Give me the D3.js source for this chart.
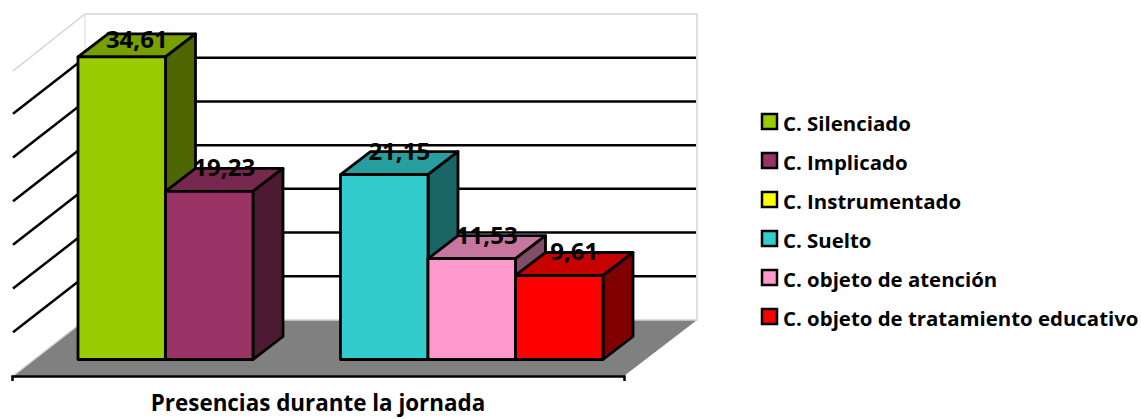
<!DOCTYPE html>
<html>
<head>
<meta charset="utf-8">
<script src="https://cdn.jsdelivr.net/npm/d3@7"></script>
<style>
body { margin: 0; background: #fff; }
text { font-family: "Open Sans", Lato, sans-serif; font-weight: bold; fill: #000; }
</style>
</head>
<body>
<svg id="chart" width="1141" height="419"></svg>
<script>
// values
const categories = ["C. Silenciado", "C. Implicado", "C. Instrumentado", "C. Suelto", "C. objeto de atención", "C. objeto de tratamiento educativo"];
const values = [34.61, 19.23, 0, 21.15, 11.53, 9.61];
const colors = ["#99CC00", "#993366", "#FFFF00", "#33CCCC", "#FF99CC", "#FF0000"];
const gridTicks = [5, 10, 15, 20, 25, 30];
const axisTitle = "Presencias durante la jornada";

const svg = d3.select("#chart");

// front plane of the bars, and the back wall
const x = d3.scaleBand().domain(categories).range([78, 603]);
const yFront = d3.scaleLinear().domain([0, 35]).range([359.5, 53.5]);
const yBack = d3.scaleLinear().domain([0, 35]).range([320, 14]);

const wallLeft = 85, wallRight = 697, floorLeft = 13, floorRight = 624, floorFront = 376;
const sideDy = floorFront - yBack(0);
const barDx = 30, barDy = -23;

const pts = a => a.map(p => p.join(",")).join(" ");

// walls
svg.append("polygon")
  .attr("points", pts([[floorLeft, floorFront], [floorRight, floorFront], [wallRight, yBack(0)], [wallLeft, yBack(0)]]))
  .attr("fill", "#808080");
svg.append("polyline")
  .attr("points", pts([[floorLeft, yBack(35) + sideDy + 1], [wallLeft, yBack(35)], [wallRight, yBack(35)], [wallRight, yBack(0)], [wallLeft, yBack(0)], [floorLeft, floorFront]]))
  .attr("fill", "none").attr("stroke", "#d4d4d4").attr("stroke-width", 1.5);
svg.append("line")
  .attr("x1", wallLeft).attr("x2", wallLeft).attr("y1", yBack(35)).attr("y2", yBack(0))
  .attr("stroke", "#e4e4e4").attr("stroke-width", 1.5);

// grid, back wall then side wall
svg.append("g").selectAll("polyline")
  .data(gridTicks)
  .enter().append("polyline")
    .attr("points", d => pts([[floorLeft, yBack(d) + sideDy], [wallLeft, yBack(d)], [wallRight - 1, yBack(d)]]))
    .attr("fill", "none")
    .attr("stroke", "#000")
    .attr("stroke-width", 2.5);

// axis along the front of the floor, title is its only tick label
const xAxis = d3.scaleBand().domain([axisTitle]).range([12, 624]);
const axisG = svg.append("g")
  .attr("transform", `translate(0,${floorFront})`)
  .call(d3.axisBottom(xAxis).tickSize(0).tickSizeOuter(5).tickPadding(19));
axisG.select(".domain").attr("stroke", "#000").attr("stroke-width", 2.5);
axisG.selectAll("text").style("font-size", "22.4px").style("font-family", "'Open Sans', sans-serif");

// bars, left to right so each one covers the side of the one before
const data = categories.map((c, i) => ({name: c, value: values[i], color: colors[i]})).filter(d => d.value > 0);

const bars = svg.append("g").selectAll("g")
  .data(data)
  .enter().append("g")
    .attr("stroke", "#000")
    .attr("stroke-width", 2.8)
    .attr("stroke-linejoin", "round");

bars.append("polygon")
  .attr("points", d => {
    const l = x(d.name), r = l + x.bandwidth(), t = yFront(d.value);
    return pts([[l, t], [r, t], [r + barDx, t + barDy], [l + barDx, t + barDy]]);
  })
  .attr("fill", d => d3.rgb(d.color).darker(0.7));

bars.append("polygon")
  .attr("points", d => {
    const r = x(d.name) + x.bandwidth(), t = yFront(d.value), b = yFront(0);
    return pts([[r, t], [r + barDx, t + barDy], [r + barDx, b + barDy], [r, b]]);
  })
  .attr("fill", d => {
    const c = d3.rgb(d.color);
    return d3.rgb(c.r * 0.5, c.g * 0.5, c.b * 0.5);
  });

bars.append("rect")
  .attr("x", d => x(d.name))
  .attr("y", d => yFront(d.value))
  .attr("width", x.bandwidth())
  .attr("height", d => yFront(0) - yFront(d.value))
  .attr("fill", d => d.color);

// data labels, kept under the top of the plot
svg.append("g").selectAll("text")
  .data(data)
  .enter().append("text")
    .attr("x", d => x(d.name) + x.bandwidth() / 2 + 15)
    .attr("y", d => Math.max(yFront(d.value) - 15, 47.5))
    .attr("text-anchor", "middle")
    .style("font-size", "24px")
    .text(d => String(d.value).replace(".", ","));

// legend
const legendY = d3.scalePoint().domain(categories).range([122, 317]);
const legend = svg.append("g").selectAll("g")
  .data(categories)
  .enter().append("g")
    .attr("transform", d => `translate(761,${legendY(d)})`);

legend.append("rect")
  .attr("x", 1).attr("y", -8)
  .attr("width", 15).attr("height", 15)
  .attr("fill", (d, i) => colors[i])
  .attr("stroke", "#000")
  .attr("stroke-width", 2.5);

legend.append("text")
  .attr("x", 22)
  .attr("y", 8.5)
  .style("font-size", "20.4px")
  .text(d => d);
</script>
</body>
</html>
